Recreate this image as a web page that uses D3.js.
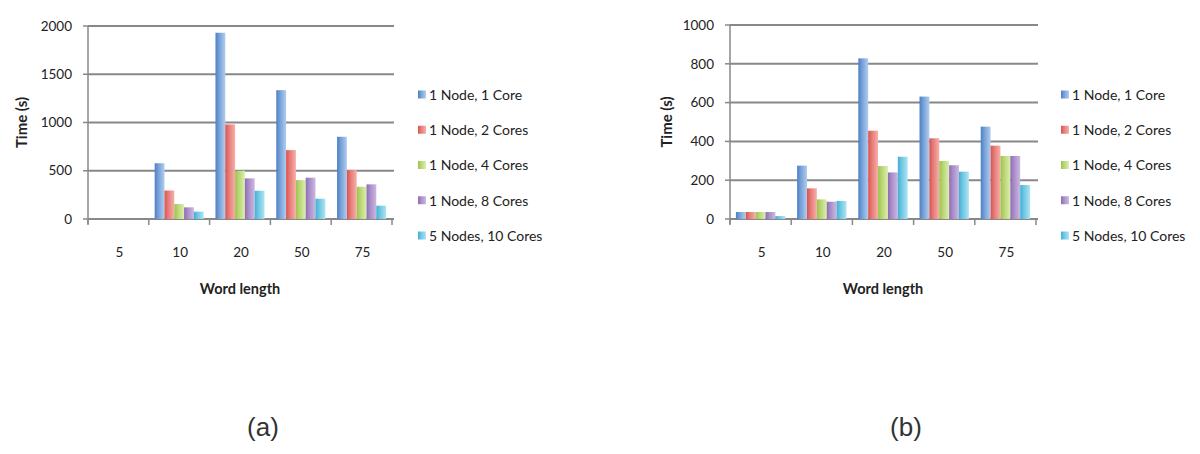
<!DOCTYPE html>
<html><head><meta charset="utf-8">
<script src="https://cdn.jsdelivr.net/npm/d3@7"></script>
<style>
body{margin:0;background:#fff;}
svg{display:block;}
text{font-family:Lato,"Open Sans",sans-serif;}
</style></head><body>
<svg id="c" width="1200" height="454"></svg>
<script>
const categories = ["5","10","20","50","75"];
const seriesNames = ["1 Node, 1 Core","1 Node, 2 Cores","1 Node, 4 Cores","1 Node, 8 Cores","5 Nodes, 10 Cores"];
// chart (a)
const valuesA = [
  [0, 578, 1930, 1335, 852],
  [0, 295, 980, 714, 507],
  [0, 155, 500, 403, 334],
  [0, 121, 421, 428, 359],
  [0, 76, 293, 210, 138]
];
const ticksA = [0, 500, 1000, 1500, 2000];
// chart (b)
const valuesB = [
  [36, 275, 828, 631, 476],
  [36, 158, 455, 416, 378],
  [36, 101, 273, 299, 325],
  [36, 89, 240, 277, 325],
  [15, 93, 321, 244, 175]
];
const ticksB = [0, 200, 400, 600, 800, 1000];
const captions = ["(a)", "(b)"];
const colors = [["#4a7fc4","#b0cdf0"],["#d9534f","#f7b0ab"],["#9cc24e","#dcefaa"],["#8e6cb5","#cdb9e2"],["#3fb0d4","#aee4f4"]];

const svg = d3.select("#c");
const defs = svg.append("defs");
colors.forEach((c,i)=>{
  const g = defs.append("linearGradient").attr("id","g"+i).attr("x1","0").attr("x2","1").attr("y1","0").attr("y2","0");
  g.append("stop").attr("offset","0").attr("stop-color",c[0]);
  g.append("stop").attr("offset","0.35").attr("stop-color",d3.interpolateRgb(c[0],c[1])(0.4));
  g.append("stop").attr("offset","1").attr("stop-color",c[1]);
});

function draw(cfg){
  const {left, right, top, bottom, values, ticks, legendX, titleX, caption, captionX} = cfg;
  const g = svg.append("g");
  const x = d3.scaleBand().domain(categories).range([left, right]).paddingInner(0).paddingOuter(0);
  const inner = d3.scaleBand().domain(d3.range(seriesNames.length)).range([0, x.bandwidth()]).paddingOuter(0.6).paddingInner(0);
  const y = d3.scaleLinear().domain([0, d3.max(ticks)]).range([bottom, top]);
  // grid
  g.selectAll(".grid").data(ticks).join("line")
    .attr("x1", left).attr("x2", right+2).attr("y1", d=>y(d)).attr("y2", d=>y(d))
    .attr("stroke", "#888").attr("stroke-width", 2);
  // y axis line
  g.append("line").attr("x1",left).attr("x2",left).attr("y1",top).attr("y2",bottom+5).attr("stroke","#888").attr("stroke-width",1.5);
  // y tick labels
  g.selectAll(".yl").data(ticks).join("text")
    .attr("x", left-16).attr("y", d=>y(d)).attr("dy","0.35em").attr("text-anchor","end")
    .attr("font-size", 13.5).attr("fill","#222").text(d=>d);
  g.selectAll(".ytk").data(ticks).join("line")
    .attr("x1", left-5).attr("x2", left).attr("y1", d=>y(d)).attr("y2", d=>y(d)).attr("stroke","#888").attr("stroke-width",1.5);
  // x tick marks
  const edges = categories.map(c=>x(c)).concat([right]);
  g.selectAll(".xtk").data(edges).join("line")
    .attr("x1", d=>d).attr("x2", d=>d).attr("y1", bottom).attr("y2", bottom+6).attr("stroke","#888").attr("stroke-width",1.5);
  // bars
  values.forEach((vals, si)=>{
    g.selectAll(".b"+si).data(vals.map((v,i)=>({v, c:categories[i]}))).join("rect")
      .attr("x", d=>x(d.c)+inner(si)).attr("width", inner.bandwidth())
      .attr("y", d=>y(d.v)).attr("height", d=>bottom - y(d.v))
      .attr("fill", "url(#g"+si+")");
  });
  // x labels
  g.selectAll(".xl").data(categories).join("text")
    .attr("x", d=>x(d)+x.bandwidth()/2+1).attr("y", 252).attr("dy","0.35em").attr("text-anchor","middle")
    .attr("font-size", 13.5).attr("fill","#222").text(d=>d);
  g.append("text").attr("x", (left+right)/2).attr("y", 289).attr("dy","0.35em").attr("text-anchor","middle")
    .attr("font-size", 14.5).attr("font-weight","bold").attr("fill","#222").text("Word length");
  g.append("text").attr("transform", `translate(${titleX},${(top+bottom)/2}) rotate(-90)`).attr("dy","0.35em")
    .attr("text-anchor","middle").attr("font-size", 15).attr("font-weight","bold").attr("fill","#222").text("Time (s)");
  // legend
  const ly = d3.scalePoint().domain(seriesNames).range([95, 236]);
  seriesNames.forEach((n,i)=>{
    g.append("rect").attr("x", legendX).attr("y", ly(n)-4.5).attr("width", 8).attr("height", 8).attr("fill", "url(#g"+i+")");
    g.append("text").attr("x", legendX+11).attr("y", ly(n)).attr("dy","0.35em").attr("font-size", 14).attr("fill","#222").text(n);
  });
  svg.append("text").attr("x", captionX).attr("y", 427).attr("dy","0.35em").attr("text-anchor","middle")
    .style("font-family","'Liberation Sans',Arial,sans-serif").attr("font-size", 26).attr("fill","#333").text(caption);
}

draw({left:88, right:392, top:26, bottom:219, values:valuesA, ticks:ticksA, legendX:418, titleX:22, caption:captions[0], captionX:263});
draw({left:730, right:1036, top:25, bottom:219, values:valuesB, ticks:ticksB, legendX:1061, titleX:667, caption:captions[1], captionX:906});
</script></body></html>
